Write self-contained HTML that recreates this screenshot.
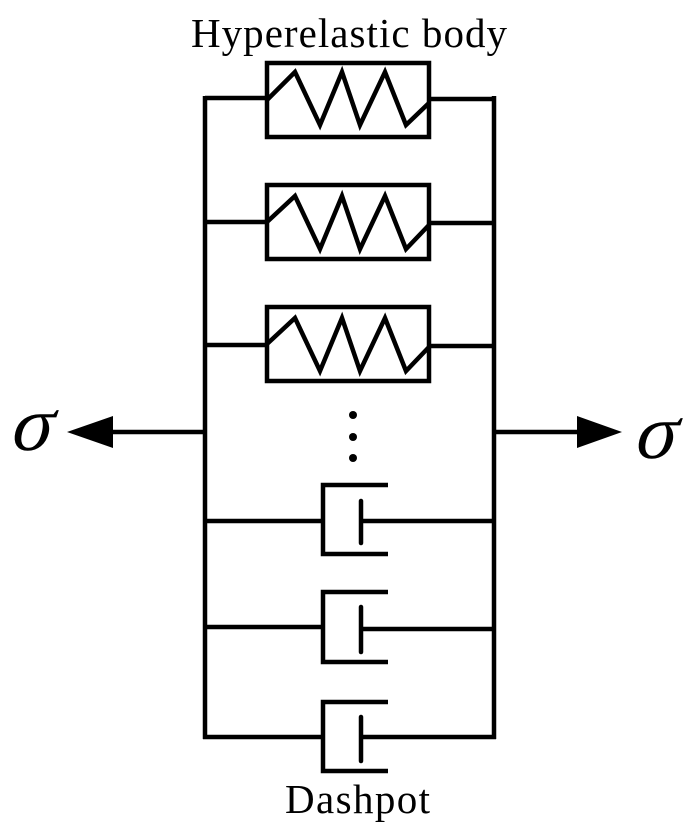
<!DOCTYPE html>
<html>
<head>
<meta charset="utf-8">
<style>
html,body{margin:0;padding:0;background:#fff;}
svg{display:block;}
</style>
</head>
<body>
<svg width="700" height="840" viewBox="0 0 700 840" xmlns="http://www.w3.org/2000/svg">
<rect width="700" height="840" fill="#fff"/>
<g stroke="#000" stroke-width="4.5" fill="none" stroke-linejoin="miter">
  <!-- outer verticals -->
  <path d="M205,96 V739"/>
  <path d="M494,96 V739"/>
  <!-- spring rows -->
  <g>
    <path d="M205,98 H267"/><path d="M429,99 H494"/>
    <rect x="267" y="63" width="162" height="74"/>
    <polyline points="267,100 295,72 320,125 342,72 360,125 385,72 406,125 429,103"/>
  </g>
  <g>
    <path d="M205,222 H267"/><path d="M429,223 H494"/>
    <rect x="267" y="185" width="162" height="74"/>
    <polyline points="267,222 295,196 320,249 342,196 360,249 385,196 406,249 429,225"/>
  </g>
  <g>
    <path d="M205,345 H267"/><path d="M429,346 H494"/>
    <rect x="267" y="307" width="162" height="74"/>
    <polyline points="267,344 295,318 320,371 342,318 360,371 385,318 406,371 429,347"/>
  </g>
  <!-- dashpots -->
  <g>
    <path d="M205,521 H323"/><path d="M361,521 H494"/>
    <polyline points="388,485 323,485 323,554 388,554"/>
    <path d="M361,501 V543" stroke-linecap="round"/>
  </g>
  <g>
    <path d="M205,627 H323"/><path d="M361,629 H494"/>
    <polyline points="388,592 323,592 323,662 388,662"/>
    <path d="M361,607 V652" stroke-linecap="round"/>
  </g>
  <g>
    <path d="M203,737 H323"/><path d="M361,737 H496"/>
    <polyline points="388,702 323,702 323,771 388,771"/>
    <path d="M361,717 V761" stroke-linecap="round"/>
  </g>
  <!-- arrows -->
  <path d="M110,432 H205"/>
  <path d="M494,432 H580"/>
</g>
<polygon points="67,432 113,416 113,448" fill="#000"/>
<polygon points="622,432 577,416 577,448" fill="#000"/>
<!-- dots -->
<circle cx="353" cy="415" r="4" fill="#000"/>
<circle cx="353" cy="437" r="4" fill="#000"/>
<circle cx="353" cy="458" r="4" fill="#000"/>
<!-- labels -->
<text x="191" y="47" font-family="'Liberation Serif', serif" font-size="41" textLength="316" lengthAdjust="spacing" fill="#000">Hyperelastic body</text>
<text x="285" y="813" font-family="'Liberation Serif', serif" font-size="41" textLength="145" lengthAdjust="spacing" fill="#000">Dashpot</text>
<text x="0" y="0" font-family="'Liberation Serif', serif" font-size="78" fill="#000" transform="translate(8,450) skewX(-14)">σ</text>
<text x="0" y="0" font-family="'Liberation Serif', serif" font-size="78" fill="#000" transform="translate(632,458) skewX(-14)">σ</text>
</svg>
</body>
</html>
